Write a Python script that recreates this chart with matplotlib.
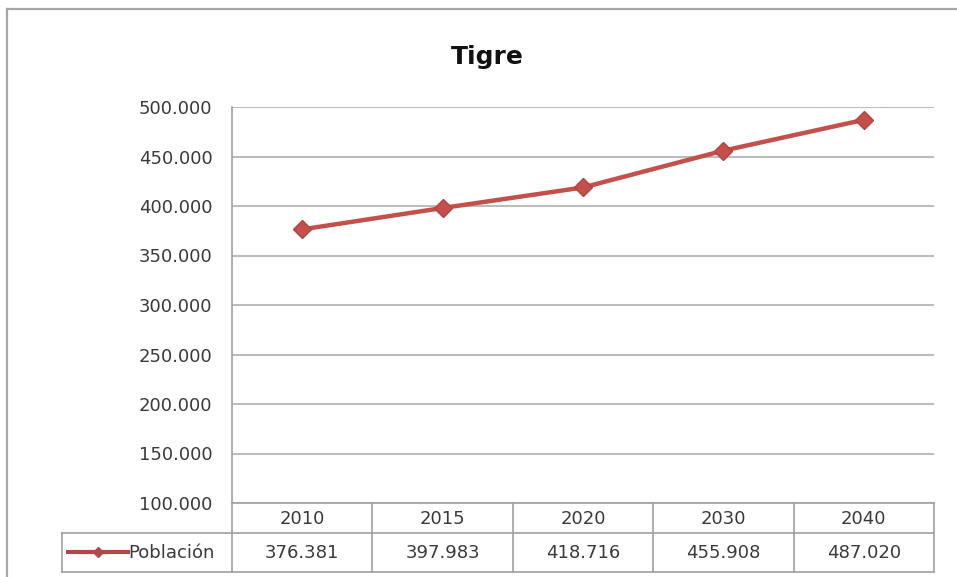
import matplotlib
matplotlib.use("Agg")
import matplotlib.pyplot as plt
from matplotlib.lines import Line2D
from matplotlib.ticker import FuncFormatter, MultipleLocator

# Population projection for Tigre
title = "Tigre"
series_name = "Población"
years = ["2010", "2015", "2020", "2030", "2040"]
population = [376381, 397983, 418716, 455908, 487020]
y_min, y_max, y_step = 100000, 500000, 50000

W, H = 957, 577
LINE_RED = "#c4504c"
GRID = "#bcbcbc"
TABLE_LINE = "#a0a0a0"
TEXT = "#3a3a3a"
FONT = "DejaVu Sans"


def thousands(v, _pos=None):
    return f"{int(round(v)):,}".replace(",", ".")


fig = plt.figure(figsize=(W / 100, H / 100), dpi=100)
fig.patch.set_facecolor("white")

# chart area frame (top and left edges visible)
fig.add_artist(Line2D([7 / W, 7 / W], [0, 1 - 9 / H], transform=fig.transFigure,
                      color="#a8a8a8", lw=1.6))
fig.add_artist(Line2D([7 / W, 1.0], [1 - 9 / H, 1 - 9 / H], transform=fig.transFigure,
                      color="#a8a8a8", lw=1.6))

# plot area in pixel bounds
px_l, px_r, px_t, px_b = 232, 934, 107, 503
ax = fig.add_axes([px_l / W, 1 - px_b / H, (px_r - px_l) / W, (px_b - px_t) / H])
x = list(range(len(years)))
ax.set_xlim(-0.5, len(years) - 0.5)
ax.set_ylim(y_min, y_max)
ax.yaxis.set_major_locator(MultipleLocator(y_step))
ax.yaxis.set_major_formatter(FuncFormatter(thousands))
ax.grid(axis="y", color=GRID, lw=1.5, zorder=0)
ax.set_axisbelow(True)
ax.set_xticks([])
for s in ["top", "right", "bottom"]:
    ax.spines[s].set_visible(False)
ax.spines["left"].set_color(TABLE_LINE)
ax.spines["left"].set_linewidth(1.2)
ax.tick_params(axis="y", length=0, pad=14, labelsize=13, labelcolor=TEXT)
for lab in ax.get_yticklabels():
    lab.set_fontfamily(FONT)

ax.plot(x, population, color=LINE_RED, lw=3.2, marker="D", markersize=9,
        markerfacecolor=LINE_RED, markeredgecolor="#b4423f", markeredgewidth=1,
        solid_capstyle="round", zorder=3, clip_on=False)

fig.text(487 / W, 1 - 57 / H, title, ha="center", va="center",
         fontsize=18, fontweight="bold", family=FONT, color="#111111")

# data table beneath the plot, sharing the category spacing
col_w = (px_r - px_l) / len(years)
lead = (px_l - 62) / col_w
t_top, t_mid, t_bot = 503, 533, 572
tax = fig.add_axes([62 / W, 1 - t_bot / H, (px_r - 62) / W, (t_bot - t_top) / H])
tax.set_xlim(-0.5 - lead, len(years) - 0.5)
tax.set_ylim(t_bot, t_top)
tax.axis("off")
kw = dict(color=TABLE_LINE, lw=1.2, clip_on=False)
tax.plot([-0.5, len(years) - 0.5], [t_top, t_top], **kw)
tax.plot([-0.5 - lead, len(years) - 0.5], [t_mid, t_mid], **kw)
tax.plot([-0.5 - lead, len(years) - 0.5], [t_bot, t_bot], **kw)
tax.plot([-0.5 - lead, -0.5 - lead], [t_mid, t_bot], **kw)
for i in range(len(years) + 1):
    tax.plot([i - 0.5, i - 0.5], [t_top, t_bot], **kw)
for i, (yr, val) in enumerate(zip(years, population)):
    tax.text(i, (t_top + t_mid) / 2 + 1, yr, ha="center", va="center",
             fontsize=13, family=FONT, color=TEXT)
    tax.text(i, (t_mid + t_bot) / 2 + 1, thousands(val), ha="center", va="center",
             fontsize=13, family=FONT, color=TEXT)

# legend key inside the row header
key_y = (t_mid + t_bot) / 2 - 1
k0 = -0.5 - lead + 6 / col_w
k1 = k0 + 60 / col_w
tax.plot([k0, k1], [key_y, key_y], color="#b04a4a", lw=3, clip_on=False)
tax.plot([(k0 + k1) / 2], [key_y], marker="D", markersize=5, color="#b04a4a", clip_on=False)
tax.text(k1, (t_mid + t_bot) / 2 + 1, series_name, ha="left", va="center",
         fontsize=13, family=FONT, color=TEXT)

fig.savefig("out.png", dpi=100, facecolor="white")
